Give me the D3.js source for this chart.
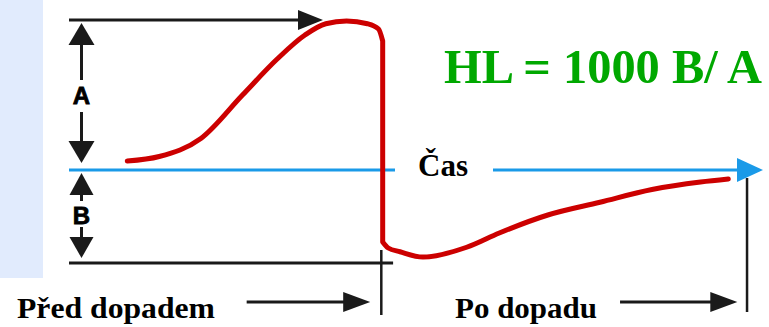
<!DOCTYPE html>
<html>
<head>
<meta charset="utf-8">
<script src="https://cdn.jsdelivr.net/npm/d3@7"></script>
<style>
    body { margin: 0; background: #ffffff; }
    svg { display: block; }
</style>
</head>
<body>
<div id="canvas"></div>
<script>
"use strict";

/* Pulse shape: time (0..100) against signal value (A level = 1) */
// rising part before the impact
let riseTime  = [8.4, 13, 19, 25, 30, 34, 37, 40, 43, 44.6, 45.2];
let riseValue = [0.06, 0.09, 0.21, 0.50, 0.74, 0.90, 0.975, 0.993, 0.975, 0.94, 0.86];
// part after the impact
let fallTime  = [45.2, 46, 47.7, 51, 57.3, 62, 69, 76.5, 84, 91, 95];
let fallValue = [-0.48, -0.52, -0.545, -0.58, -0.515, -0.42, -0.30, -0.215, -0.13, -0.08, -0.06];

/* Reference levels and times */
let levelNames  = ["A", "B"];
let levelValues = [1, -0.62];
let impactTime = 45.0;
let axisEnd = 100;
let topArrowEnd = 36.6;
let bottomLineEnd = 46.7;
let endMarkTime = 97.7;

/* Texts */
let formulaText = "HL = 1000 B/ A";
let axisLabel = "Čas";
let phaseLabels = ["Před dopadem", "Po dopadu"];
let phaseArrowStart = [25.6, 79.4];
let phaseArrowEnd = [43.4, 96.3];

let svgWidth = 769;
let svgHeight = 327;
let serifFont = "'Liberation Serif'";
let sansFont = "'Liberation Sans'";

let svg = d3.select("#canvas")
    .append("svg")
    .attr("width", svgWidth)
    .attr("height", svgHeight);

// light blue strip on the left
svg.append("rect")
    .attr("x", 0).attr("y", 0)
    .attr("width", 43).attr("height", 278)
    .attr("fill", "#e1ebfd");

let xScale = d3.scaleLinear().domain([0, 100]).range([69, 763]);
let yScale = d3.scaleLinear().domain([0, 1]).range([170, 20]);

let black = "#1a1a1a";
let blue = "#1a9ae8";

// draws a filled triangle arrowhead with tip at (x, y)
function arrowHead(x, y, dir, len, half, color) {
    let pts;
    if (dir === "right") pts = [[x, y], [x - len, y - half], [x - len, y + half]];
    if (dir === "up")    pts = [[x, y], [x - half, y + len], [x + half, y + len]];
    if (dir === "down")  pts = [[x, y], [x - half, y - len], [x + half, y - len]];
    svg.append("polygon")
        .attr("points", pts.map(function(p) { return p.join(","); }).join(" "))
        .attr("fill", color);
}

function line(x1, y1, x2, y2, color, w) {
    svg.append("line")
        .attr("x1", x1).attr("y1", y1)
        .attr("x2", x2).attr("y2", y2)
        .attr("stroke", color)
        .attr("stroke-width", w);
}

// top (A) level line with arrow
let yA = yScale(levelValues[0]);
line(xScale(0), yA, xScale(topArrowEnd) - 20, yA, black, 3);
arrowHead(xScale(topArrowEnd), yA, "right", 25, 10, black);

// bottom (B) level line
let yB = yScale(levelValues[1]);
line(xScale(0), yB, xScale(bottomLineEnd), yB, black, 3);

// impact vertical mark
line(xScale(impactTime), yB - 13, xScale(impactTime), 315, black, 2.5);

// time axis, with a gap for its label
let y0 = yScale(0);
line(xScale(0), y0, 395, y0, blue, 3);
line(493, y0, xScale(axisEnd) - 22, y0, blue, 3);
arrowHead(xScale(axisEnd), y0, "right", 26, 12, blue);

svg.append("text")
    .attr("x", 418)
    .attr("y", 176)
    .style("font-family", serifFont)
    .style("font-weight", "bold")
    .style("font-size", "31px")
    .attr("fill", "#000")
    .text(axisLabel);

// end mark at the right
line(xScale(endMarkTime), y0 + 8, xScale(endMarkTime), 312, black, 2.5);

// A and B double arrows
let ax = 81.5;
arrowHead(ax, yA + 3, "up", 22, 13, black);
line(ax, yA + 24, ax, 80, black, 3);
line(ax, 112, ax, y0 - 26, black, 3);
arrowHead(ax, y0 - 7, "down", 22, 13, black);

arrowHead(ax, y0 + 3, "up", 22, 12, black);
line(ax, y0 + 24, ax, 201, black, 3);
line(ax, 227, ax, yB - 24, black, 3);
arrowHead(ax, yB - 5, "down", 21, 12, black);

let labelY = [104, 224];
levelNames.forEach(function(name, i) {
    svg.append("text")
        .attr("x", ax)
        .attr("y", labelY[i])
        .attr("text-anchor", "middle")
        .style("font-family", sansFont)
        .style("font-weight", "bold")
        .style("font-size", "24px")
        .attr("fill", "#000")
        .attr("stroke", "#000")
        .attr("stroke-width", 0.8)
        .text(name);
});

// the pulse curve: smooth rise, straight drop at impact, smooth recovery
let pulseLine = d3.line()
    .x(function(d) { return xScale(d[0]); })
    .y(function(d) { return yScale(d[1]); })
    .curve(d3.curveMonotoneX);

let rise = riseTime.map(function(t, i) { return [t, riseValue[i]]; });
let fall = fallTime.map(function(t, i) { return [t, fallValue[i]]; });
let pathD = pulseLine(rise) + pulseLine(fall).replace(/^M/, "L");

svg.append("path")
    .attr("d", pathD)
    .attr("fill", "none")
    .attr("stroke", "#cc0000")
    .attr("stroke-width", 5)
    .attr("stroke-linecap", "round")
    .attr("stroke-linejoin", "round");

// formula
svg.append("text")
    .attr("x", 444)
    .attr("y", 83)
    .style("font-family", serifFont)
    .style("font-weight", "bold")
    .style("font-size", "48px")
    .attr("fill", "#00a800")
    .attr("textLength", 318)
    .attr("lengthAdjust", "spacingAndGlyphs")
    .text(formulaText);

// phase labels with arrows
let phaseX = [17, 455];
let phaseW = [198, 142];
phaseLabels.forEach(function(name, i) {
    svg.append("text")
        .attr("x", phaseX[i])
        .attr("y", 318)
        .style("font-family", serifFont)
        .style("font-weight", "bold")
        .style("font-size", "30px")
        .attr("fill", "#000")
        .attr("textLength", phaseW[i])
        .attr("lengthAdjust", "spacingAndGlyphs")
        .text(name);

    line(xScale(phaseArrowStart[i]), 302, xScale(phaseArrowEnd[i]) - 22, 302, black, 3);
    arrowHead(xScale(phaseArrowEnd[i]), 302, "right", 27, 10, black);
});
</script>
</body>
</html>
